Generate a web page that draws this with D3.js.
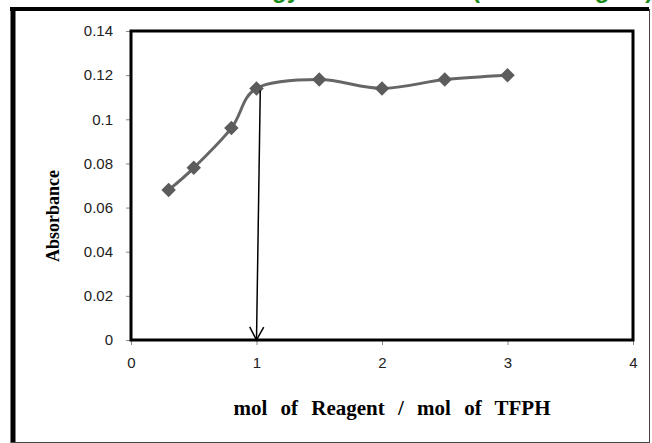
<!DOCTYPE html>
<html>
<head>
<meta charset="utf-8">
<script src="https://cdn.jsdelivr.net/npm/d3@7"></script>
<style>
  body { margin:0; background:#fff; }
  .tick text { font-family:"Liberation Sans", Arial, sans-serif; font-size:15px; fill:#222; }
  .tick line { stroke:#888; }
  .domain { display:none; }
</style>
</head>
<body>
<div id="chart"></div>
<script>
// mole ratio data
var ratio = [0.3, 0.5, 0.8, 1.0, 1.5, 2.0, 2.5, 3.0];
var absorbance = [0.068, 0.078, 0.096, 0.114, 0.118, 0.114, 0.118, 0.120];
var xTicks = [0, 1, 2, 3, 4];
var yTicks = [0, 0.02, 0.04, 0.06, 0.08, 0.1, 0.12, 0.14];
// arrow from the break point down to the x axis (data units)
var arrowFrom = [1.03, 0.113], arrowTo = [1.0, 0];

var width = 652, height = 443;
var svg = d3.select("#chart").append("svg")
  .attr("width", width).attr("height", height)
  .style("display", "block");

// title, cut off by the top of the picture (only descenders show)
svg.append("text")
  .attr("x", 300).attr("y", -2)
  .attr("text-anchor", "end")
  .style("font-family", "Liberation Sans, Arial, sans-serif")
  .style("font-weight", "bold").style("font-size", "24px")
  .attr("fill", "#1a8c1a")
  .text("Mole ratio methodology");
svg.append("text")
  .attr("x", 472).attr("y", -2)
  .style("font-family", "Liberation Sans, Arial, sans-serif")
  .style("font-weight", "bold").style("font-size", "24px")
  .attr("fill", "#1a8c1a")
  .text("(TFPH-Reagent)");

// outer frame
svg.append("line").attr("x1", 10).attr("x2", 649).attr("y1", 9).attr("y2", 9).attr("stroke", "#000").attr("stroke-width", 4);
svg.append("line").attr("x1", 13).attr("x2", 13).attr("y1", 7).attr("y2", 443).attr("stroke", "#000").attr("stroke-width", 5);
svg.append("line").attr("x1", 649.5).attr("x2", 649.5).attr("y1", 9).attr("y2", 442).attr("stroke", "#444").attr("stroke-width", 1);
svg.append("line").attr("x1", 11).attr("x2", 650).attr("y1", 442.5).attr("y2", 442.5).attr("stroke", "#444").attr("stroke-width", 1);

var m = {left:131, right:633, top:31, bottom:340};
var x = d3.scaleLinear().domain([0, 4]).range([m.left, m.right]);
var y = d3.scaleLinear().domain([0, 0.14]).range([m.bottom, m.top]);

svg.append("g")
  .attr("transform", "translate(" + m.left + ",0)")
  .call(d3.axisLeft(y).tickValues(yTicks).tickSize(5).tickPadding(13)
    .tickFormat(function(d){ return String(+d.toFixed(2)); }));

svg.append("g")
  .attr("transform", "translate(0," + m.bottom + ")")
  .call(d3.axisBottom(x).tickValues(xTicks).tickSize(5).tickPadding(12)
    .tickFormat(d3.format("d")));

// plot area border
svg.append("rect")
  .attr("x", m.left).attr("y", m.top)
  .attr("width", m.right - m.left).attr("height", m.bottom - m.top)
  .attr("fill", "none").attr("stroke", "#000").attr("stroke-width", 3);

var pts = ratio.map(function(r, i){ return [r, absorbance[i]]; });

var line = d3.line()
  .x(function(d){ return x(d[0]); })
  .y(function(d){ return y(d[1]); })
  .curve(d3.curveCardinal.tension(0));

svg.append("path").datum(pts)
  .attr("d", line)
  .attr("fill", "none").attr("stroke", "#666").attr("stroke-width", 3);

svg.selectAll(".pt").data(pts).enter().append("path")
  .attr("class", "pt")
  .attr("d", d3.symbol(d3.symbolSquare, 105))
  .attr("transform", function(d){ return "translate(" + x(d[0]) + "," + y(d[1]) + ") rotate(45)"; })
  .attr("fill", "#5c5c5c");

// arrow
var ang = Math.atan2(y(arrowTo[1]) - y(arrowFrom[1]), x(arrowTo[0]) - x(arrowFrom[0])) * 180 / Math.PI - 90;
svg.append("line")
  .attr("x1", x(arrowFrom[0])).attr("y1", y(arrowFrom[1]))
  .attr("x2", x(arrowTo[0])).attr("y2", y(arrowTo[1]))
  .attr("stroke", "#000").attr("stroke-width", 1.5);
svg.append("path")
  .attr("d", "M-7,-13L0,0L7,-13")
  .attr("transform", "translate(" + x(arrowTo[0]) + "," + y(arrowTo[1]) + ") rotate(" + ang + ")")
  .attr("fill", "none").attr("stroke", "#000").attr("stroke-width", 1.5);

// axis titles
svg.append("text")
  .attr("x", 392).attr("y", 415)
  .attr("text-anchor", "middle")
  .style("font-family", "Liberation Serif, Times New Roman, serif")
  .style("font-weight", "bold").style("font-size", "21px")
  .style("word-spacing", "8px")
  .text("mol of Reagent / mol of TFPH");

svg.append("text")
  .attr("transform", "translate(59,216) rotate(-90)")
  .attr("text-anchor", "middle")
  .style("font-family", "Liberation Serif, Times New Roman, serif")
  .style("font-weight", "bold").style("font-size", "18px")
  .text("Absorbance");
</script>
</body>
</html>
